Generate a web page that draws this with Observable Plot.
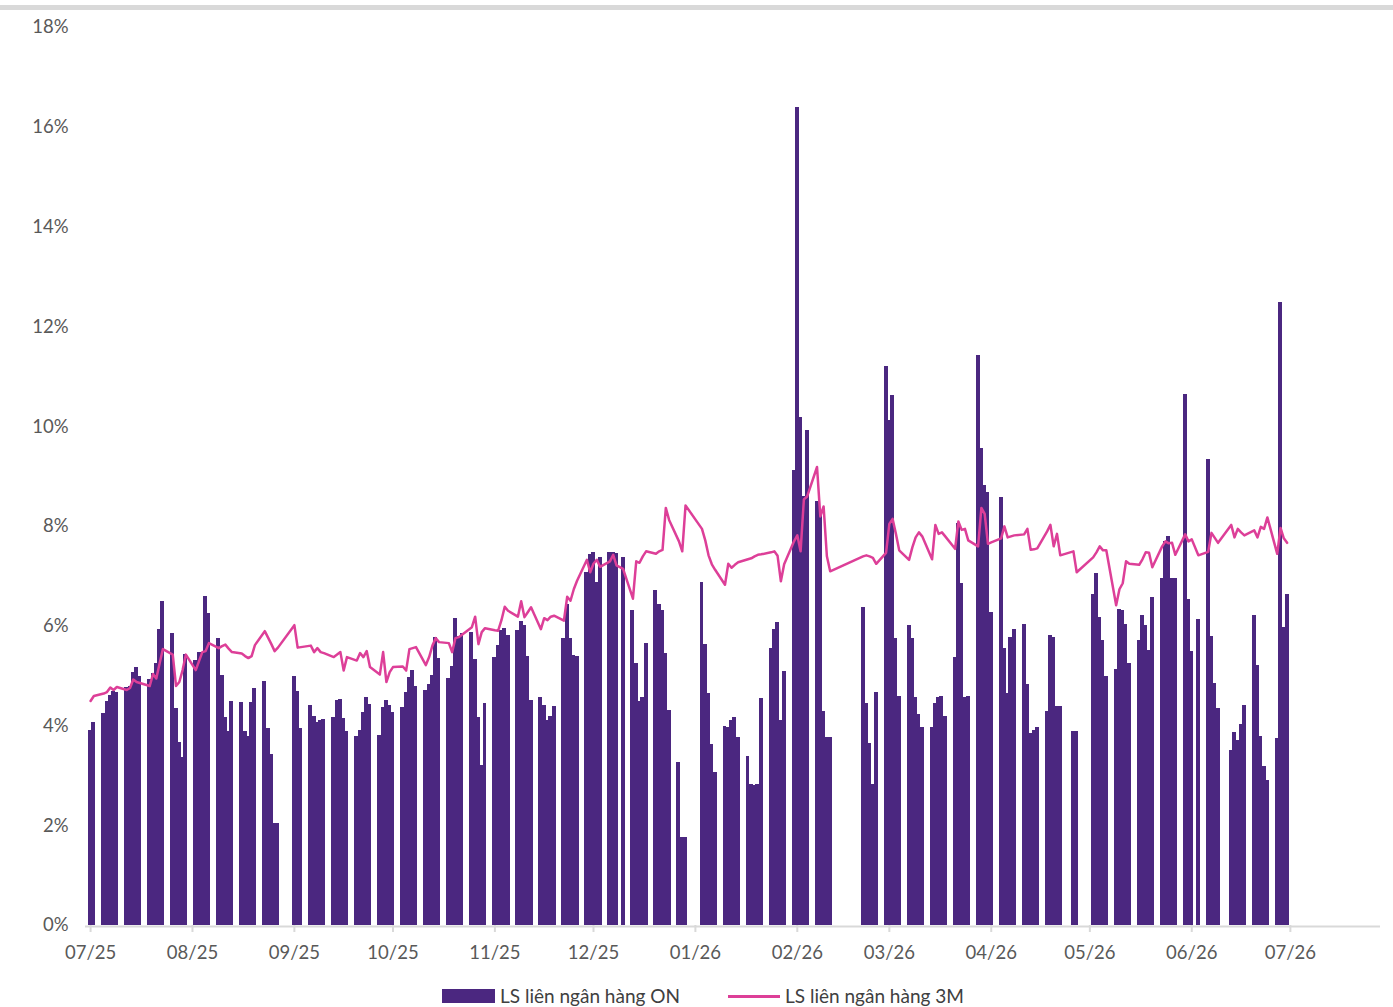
<!DOCTYPE html>
<html><head><meta charset="utf-8">
<script src="https://cdn.jsdelivr.net/npm/d3@7"></script>
<script src="https://cdn.jsdelivr.net/npm/@observablehq/plot@0.6"></script>
<style>
body{margin:0;background:#fff;font-family:Lato,"Open Sans",sans-serif;}
#wrap{position:relative;width:1393px;height:1007px;overflow:hidden;}
#topbar{position:absolute;left:0;top:5px;width:1393px;height:5px;background:#d9d9d9;}
#chart{position:absolute;left:0;top:0;}
.lg{position:absolute;font-size:19px;color:#404040;white-space:nowrap;line-height:20px;}
</style></head>
<body><div id="wrap"><div id="topbar"></div><div id="chart"></div>
<div id="legend"></div></div>
<script>
// Drawn calendar: each week row = 5 consecutive day slots starting from weekStart + 7*w
const weekStart = [2025, 5, 28];
const onWeeks = [
 [null,null,null,3.91,4.07],
 [4.24,4.48,4.62,4.70,4.68],
 [4.78,4.80,5.08,5.18,5.00],
 [4.93,5.05,5.26,5.94,6.50],
 [5.86,4.34,3.67,3.36,5.44],
 [5.31,5.48,5.48,6.59,6.25],
 [5.76,5.01,4.16,3.88,4.49],
 [4.46,3.88,3.79,4.47,4.76],
 [4.89,3.94,3.42,2.04,2.04],
 [null,null,4.99,4.70,3.94],
 [4.40,4.19,4.06,4.11,4.13],
 [4.17,4.51,4.54,4.14,3.89],
 [3.79,3.91,4.26,4.58,4.43],
 [3.81,4.37,4.51,4.40,4.26],
 [4.36,4.68,4.98,5.11,4.79],
 [4.72,4.83,5.01,5.78,5.36],
 [4.96,5.19,6.16,5.80,5.85],
 [5.88,5.34,4.17,3.21,4.44],
 [5.38,5.61,5.91,5.96,5.81],
 [5.92,6.09,6.01,5.39,4.51],
 [4.58,4.40,4.10,4.18,4.38],
 [5.76,6.43,5.75,5.41,5.39],
 [7.08,7.43,7.48,6.88,7.37],
 [7.48,7.48,7.45,null,7.37],
 [6.31,5.26,4.48,4.58,5.66],
 [6.71,6.43,6.31,5.46,4.31],
 [3.27,1.76,1.76,null,null],
 [6.88,5.64,4.66,3.62,3.07],
 [3.99,3.96,4.11,4.16,3.77],
 [3.38,2.83,2.80,2.82,4.56],
 [5.55,5.93,6.07,4.11,5.09],
 [9.12,16.40,10.19,8.60,9.92],
 [8.50,8.25,4.29,3.76,3.76],
 [null,null,null,null,null],
 [6.38,4.45,3.65,2.83,4.68],
 [11.20,10.12,10.62,5.75,4.60],
 [6.01,5.75,4.57,4.22,3.97],
 [3.96,4.45,4.57,4.59,4.19],
 [5.37,8.05,6.85,4.57,4.60],
 [11.42,9.57,8.81,8.68,6.28],
 [8.58,5.56,4.66,5.78,5.94],
 [6.03,4.83,3.84,3.90,3.97],
 [4.28,5.82,5.77,4.38,4.38],
 [null,3.88,3.88,null,null],
 [6.63,7.06,6.18,5.71,5.00],
 [5.14,6.33,6.31,6.04,5.25],
 [5.71,6.21,6.01,5.52,6.57],
 [6.96,7.70,7.80,6.96,6.96],
 [10.65,6.53,5.50,null,6.13],
 [9.35,5.79,4.85,4.35,null],
 [3.51,3.87,3.70,4.03,4.41],
 [6.21,5.21,3.79,3.18,2.91],
 [3.74,12.49,5.97,6.64,null]
];
const m3Weeks = [
 [null,null,null,4.50,4.60],
 [4.65,4.68,4.77,4.72,4.78],
 [4.72,4.76,4.93,4.88,4.86],
 [4.80,5.04,4.95,5.25,5.54],
 [5.43,4.80,4.88,5.12,5.43],
 [5.12,5.30,5.48,5.50,5.66],
 [5.56,5.60,5.63,5.55,5.48],
 [5.45,5.40,5.36,5.40,5.62],
 [5.90,5.77,5.64,5.50,5.57],
 [null,null,6.02,5.57,5.58],
 [5.61,5.48,5.56,5.48,5.46],
 [5.38,5.43,5.48,5.11,5.38],
 [5.31,5.46,5.38,5.50,5.18],
 [5.03,5.48,4.88,5.08,5.18],
 [5.19,5.11,5.54,5.56,5.58],
 [5.22,5.38,5.61,5.76,5.68],
 [5.66,5.48,5.76,5.78,5.83],
 [5.98,6.19,5.64,5.88,5.96],
 [5.92,5.91,6.12,6.39,6.31],
 [6.19,6.50,6.18,6.28,6.38],
 [5.94,6.16,6.12,6.19,6.21],
 [6.11,6.59,6.51,6.74,6.91],
 [7.33,7.08,7.25,7.33,7.19],
 [7.30,7.43,7.22,null,7.15],
 [6.55,7.30,7.27,7.40,7.50],
 [7.45,7.50,7.53,8.37,8.13],
 [7.70,7.50,8.42,null,null],
 [7.95,7.72,7.42,7.24,7.13],
 [6.83,7.25,7.17,7.23,7.28],
 [7.34,7.36,7.40,7.43,7.44],
 [7.48,7.50,7.41,6.90,7.24],
 [7.70,7.82,7.50,8.54,8.60],
 [9.19,8.20,8.40,7.40,7.10],
 [null,null,null,null,null],
 [7.40,7.42,7.40,7.37,7.25],
 [7.47,8.05,8.15,7.85,7.52],
 [7.33,7.58,7.78,7.88,7.80],
 [7.34,8.03,7.85,7.88,7.80],
 [7.55,8.10,7.93,7.95,7.72],
 [7.60,8.37,8.25,7.65,7.68],
 [7.76,8.00,7.78,7.80,7.82],
 [7.84,7.95,7.53,7.54,7.56],
 [7.90,8.03,7.60,7.85,7.42],
 [null,7.50,7.08,null,null],
 [7.38,7.48,7.60,7.52,7.52],
 [6.42,6.74,6.86,7.30,7.25],
 [7.23,7.34,7.48,7.47,7.18],
 [7.60,7.70,7.66,7.67,7.43],
 [7.84,7.70,7.74,null,7.42],
 [7.49,7.87,7.77,7.67,null],
 [8.03,7.78,7.95,7.88,7.82],
 [7.92,7.78,7.99,7.95,8.18],
 [7.45,7.97,7.76,7.67,null]
];
const monthTicks = ["2025-07-01","2025-08-01","2025-09-01","2025-10-01","2025-11-01","2025-12-01",
 "2026-01-01","2026-02-01","2026-03-01","2026-04-01","2026-05-01","2026-06-01","2026-07-01"];
const yTicks = [0,2,4,6,8,10,12,14,16,18];
const seriesNames = ["LS liên ngân hàng ON","LS liên ngân hàng 3M"];
const colors = ["#4b2780","#dd3f98"];

const DAY = 864e5;
function rows(weeks){
  const out = [];
  weeks.forEach((wk,w)=>wk.forEach((v,j)=>{
    if(v!=null) out.push({date:new Date(Date.UTC(weekStart[0],weekStart[1],weekStart[2]+7*w+j)), v});
  }));
  return out;
}
const onRows = rows(onWeeks), m3Rows = rows(m3Weeks);
const ticks = monthTicks.map(s=>new Date(s+"T00:00:00Z"));
const xDomain = [new Date(Date.UTC(2025,5,29,11)), new Date(Date.UTC(2026,6,28,10))];

const chart = Plot.plot({
  width:1393, height:970,
  marginLeft:85, marginRight:13, marginTop:27, marginBottom:45,
  style:{fontFamily:"Lato, 'Open Sans', sans-serif", background:"transparent"},
  x:{type:"utc", domain:xDomain},
  y:{domain:[0,18]},
  marks:[
    Plot.rectY(onRows,{x1:d=>new Date(+d.date-0.6*DAY), x2:d=>new Date(+d.date+0.6*DAY), y:"v", fill:colors[0], shapeRendering:"crispEdges"}),
    Plot.ruleY([0],{stroke:"#d9d9d9", strokeWidth:2, dy:1}),
    Plot.line(m3Rows,{x:"date", y:"v", stroke:colors[1], strokeWidth:2.5, curve:"linear"}),
    Plot.axisY(yTicks,{tickSize:0, tickPadding:17, tickFormat:d=>d+"%", fontSize:18.5, fill:"#595959", label:null}),
    Plot.axisX(ticks,{tickSize:7, stroke:"#d9d9d9", strokeWidth:2, tickPadding:13, tickFormat:d3.utcFormat("%m/%y"), fontSize:18.5, fill:"#595959", label:null})
  ]
});
document.getElementById("chart").appendChild(chart);

const lg = document.getElementById("legend");
lg.innerHTML = `
<div style="position:absolute;left:442px;top:989px;width:53px;height:14px;background:${colors[0]}"></div>
<div class="lg" style="left:500px;top:986px">${seriesNames[0]}</div>
<div style="position:absolute;left:728px;top:995px;width:52px;height:2.5px;background:${colors[1]}"></div>
<div class="lg" style="left:785px;top:986px">${seriesNames[1]}</div>`;
</script></body></html>
